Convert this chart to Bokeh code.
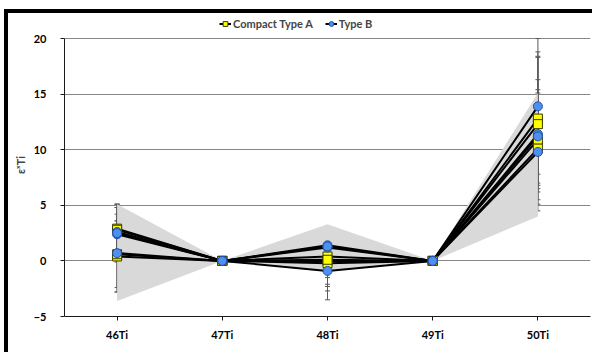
from bokeh.plotting import figure
from bokeh.models import (FactorRange, ColumnDataSource, Whisker, TeeHead, Legend,
                          LegendItem, FixedTicker, Range1d)
from bokeh.embed import file_html
from bokeh.resources import INLINE

# ---- data -------------------------------------------------------------
isotopes = ["46Ti", "47Ti", "48Ti", "49Ti", "50Ti"]

# Compact Type A CAIs (epsilon values, internally normalised to 49Ti/47Ti)
type_a_1 = [2.9, 0.0, 0.4, 0.0, 12.8]
type_a_2 = [0.4, 0.0, 0.0, 0.0, 12.3]
type_a_3 = [2.8, 0.0, -0.2, 0.0, 10.9]
type_a_4 = [0.6, 0.0, 0.1, 0.0, 10.1]
type_a_1_err = [2.2, 0.0, 1.9, 0.0, 6.0]
type_a_2_err = [3.2, 0.0, 2.3, 0.0, 6.1]
type_a_3_err = [2.0, 0.0, 2.5, 0.0, 5.4]
type_a_4_err = [3.0, 0.0, 2.2, 0.0, 5.0]

# Type B CAIs
type_b_1 = [2.6, 0.0, 1.4, 0.0, 13.9]
type_b_2 = [2.4, 0.0, 1.2, 0.0, 11.4]
type_b_3 = [0.7, 0.0, -0.9, 0.0, 11.2]
type_b_4 = [2.5, 0.0, 1.3, 0.0, 9.8]
type_b_1_err = [2.5, 0.0, 1.0, 0.0, 6.1]
type_b_2_err = [2.4, 0.0, 1.2, 0.0, 6.9]
type_b_3_err = [3.5, 0.0, 2.6, 0.0, 4.2]
type_b_4_err = [2.6, 0.0, 0.9, 0.0, 3.3]

# grey envelope
band_lower = [-3.6, 0.0, -1.0, 0.0, 4.0]
band_upper = [5.1, 0.0, 3.3, 0.0, 15.1]

y_ticks = [-5, 0, 5, 10, 15, 20]

type_a = [(type_a_1, type_a_1_err), (type_a_2, type_a_2_err),
          (type_a_3, type_a_3_err), (type_a_4, type_a_4_err)]
type_b = [(type_b_1, type_b_1_err), (type_b_2, type_b_2_err),
          (type_b_3, type_b_3_err), (type_b_4, type_b_4_err)]

FONT = "Lato"

# frame extends above the 20 gridline so the legend can sit inside it
p = figure(x_range=FactorRange(*isotopes), y_range=Range1d(-5, 22.25),
           width=592, height=352, output_backend="svg", toolbar_location=None,
           min_border_left=64, min_border_right=2, min_border_top=13,
           min_border_bottom=36)
p.outline_line_color = None
p.background_fill_color = "white"
p.border_fill_color = None
# black chart-box border (left and top), painted behind the transparent canvas
p.styles = {"background-color": "white",
            "background-image": "linear-gradient(black, black), linear-gradient(black, black)",
            "background-size": "4px 100%, 100% 4px",
            "background-position": "4px 9px, 4px 9px",
            "background-repeat": "no-repeat"}

# envelope
p.varea(x=isotopes, y1=band_lower, y2=band_upper, fill_color="#d9d9d9")

# error bars
for vals, errs in type_a + type_b:
    src = ColumnDataSource(dict(x=isotopes,
                                lo=[v - e for v, e in zip(vals, errs)],
                                hi=[v + e for v, e in zip(vals, errs)]))
    w = Whisker(base="x", lower="lo", upper="hi", source=src,
                line_color="#595959", line_width=1,
                upper_head=TeeHead(size=5, line_color="#595959", line_width=1),
                lower_head=TeeHead(size=5, line_color="#595959", line_width=1))
    p.add_layout(w)

lines_a = [p.line(isotopes, vals, line_color="black", line_width=2) for vals, errs in type_a]
lines_b = [p.line(isotopes, vals, line_color="black", line_width=2) for vals, errs in type_b]

marks_a = [p.scatter(isotopes, vals, marker="square", size=9, fill_color="#ffff00",
                     line_color="#3a3a00", line_width=1) for vals, errs in type_a]
marks_b = [p.scatter(isotopes, vals, marker="circle", size=9, fill_color="#4f8ff0",
                     line_color="#1f4f9f", line_width=1) for vals, errs in type_b]

legend = Legend(items=[LegendItem(label="Compact Type A", renderers=[lines_a[0], marks_a[0]]),
                       LegendItem(label="Type B", renderers=[lines_b[0], marks_b[0]])],
                orientation="horizontal", location=(155, 286),
                glyph_width=12, glyph_height=13, label_standoff=2, spacing=12,
                padding=0, margin=0, border_line_color=None,
                background_fill_alpha=0,
                label_text_font=FONT, label_text_font_style="bold",
                label_text_font_size="11px", label_height=13)
p.add_layout(legend, "center")

# axes
p.xgrid.visible = False
p.ygrid.grid_line_color = "#868686"
p.ygrid.grid_line_width = 1
p.yaxis.ticker = FixedTicker(ticks=y_ticks)
p.yaxis.bounds = (-5, 20)
p.yaxis.axis_label = "εˣTi"
p.yaxis.axis_label_text_font = FONT
p.yaxis.axis_label_text_font_style = "bold"
p.yaxis.axis_label_text_font_size = "11px"
p.yaxis.axis_label_standoff = 4
for ax in (p.xaxis[0], p.yaxis[0]):
    ax.axis_line_color = "#1a1a1a"
    ax.axis_line_width = 1
    ax.major_tick_line_color = "#1a1a1a"
    ax.major_tick_out = 4
    ax.major_tick_in = 0
    ax.minor_tick_line_color = None
    ax.major_label_text_font = FONT
    ax.major_label_text_font_style = "bold"
    ax.major_label_text_font_size = "11px"
    ax.major_label_text_color = "black"
p.yaxis.major_label_standoff = 14
p.xaxis.major_label_standoff = 7

open("out.html", "w").write(file_html(p, INLINE))
